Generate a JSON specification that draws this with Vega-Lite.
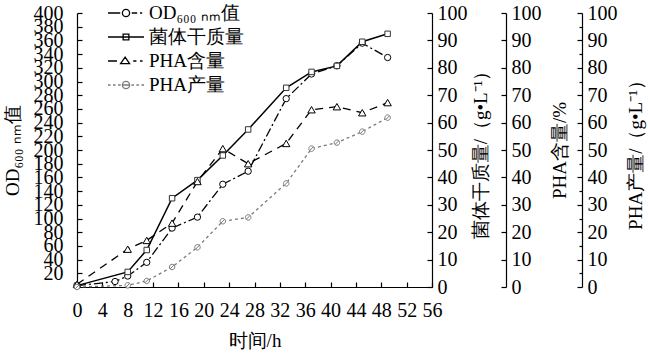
{
  "$schema": "https://vega.github.io/schema/vega-lite/v6.json",
  "width": 355,
  "height": 274,
  "autosize": {"type": "none"},
  "padding": {"left": 77, "top": 13, "right": 216, "bottom": 71},
  "config": {
    "view": {"stroke": null},
    "font": "Liberation Serif",
    "axis": {
      "grid": false,
      "domainColor": "black",
      "tickColor": "black",
      "labelColor": "black",
      "titleColor": "black",
      "labelFont": "Liberation Serif",
      "titleFont": "Liberation Serif",
      "labelFontSize": 20,
      "titleFontSize": 19,
      "titleFontWeight": "normal",
      "labelOverlap": false,
      "labelFlush": false,
      "labelBound": false,
      "tickSize": -5,
      "domainWidth": 1.2,
      "tickWidth": 1.2
    },
    "legend": {
      "labelFont": "Liberation Serif",
      "labelFontSize": 19,
      "labelColor": "black",
      "padding": 0
    }
  },
  "data": {
    "values": [
      {"s": "OD", "t": 0, "v": 2},
      {"s": "OD", "t": 6, "v": 8},
      {"s": "OD", "t": 8, "v": 16},
      {"s": "OD", "t": 11, "v": 36},
      {"s": "OD", "t": 15, "v": 86},
      {"s": "OD", "t": 19, "v": 102},
      {"s": "OD", "t": 23, "v": 150},
      {"s": "OD", "t": 27, "v": 169},
      {"s": "OD", "t": 33, "v": 275},
      {"s": "OD", "t": 37, "v": 311},
      {"s": "OD", "t": 41, "v": 323},
      {"s": "OD", "t": 45, "v": 356},
      {"s": "OD", "t": 49, "v": 335},
      {"s": "DW", "t": 0, "v": 0.5},
      {"s": "DW", "t": 8, "v": 5.5},
      {"s": "DW", "t": 11, "v": 13.5},
      {"s": "DW", "t": 15, "v": 32.4},
      {"s": "DW", "t": 19, "v": 39},
      {"s": "DW", "t": 23, "v": 48},
      {"s": "DW", "t": 27, "v": 57.5},
      {"s": "DW", "t": 33, "v": 72.7},
      {"s": "DW", "t": 37, "v": 78.5},
      {"s": "DW", "t": 41, "v": 80.7},
      {"s": "DW", "t": 45, "v": 89.5},
      {"s": "DW", "t": 49, "v": 92.4},
      {"s": "PC", "t": 0, "v": 1},
      {"s": "PC", "t": 8, "v": 13.8},
      {"s": "PC", "t": 11, "v": 17},
      {"s": "PC", "t": 15, "v": 23.3},
      {"s": "PC", "t": 19, "v": 38.5},
      {"s": "PC", "t": 23, "v": 50.5},
      {"s": "PC", "t": 27, "v": 45},
      {"s": "PC", "t": 33, "v": 52.4},
      {"s": "PC", "t": 37, "v": 64.7},
      {"s": "PC", "t": 41, "v": 65.8},
      {"s": "PC", "t": 45, "v": 63.6},
      {"s": "PC", "t": 49, "v": 67.3},
      {"s": "PY", "t": 0, "v": 0},
      {"s": "PY", "t": 8, "v": 0.6},
      {"s": "PY", "t": 11, "v": 2.2},
      {"s": "PY", "t": 15, "v": 7.3},
      {"s": "PY", "t": 19, "v": 14.5},
      {"s": "PY", "t": 23, "v": 24},
      {"s": "PY", "t": 27, "v": 25.4},
      {"s": "PY", "t": 33, "v": 37.8},
      {"s": "PY", "t": 37, "v": 50.5},
      {"s": "PY", "t": 41, "v": 52.7},
      {"s": "PY", "t": 45, "v": 56.7},
      {"s": "PY", "t": 49, "v": 61.8}
    ]
  },
  "encoding": {
    "x": {
      "field": "t",
      "type": "quantitative",
      "scale": {"domain": [0, 56], "nice": false},
      "axis": {
        "values": [0, 4, 8, 12, 16, 20, 24, 28, 32, 36, 40, 44, 48, 52, 56],
        "title": "时间/h",
        "labelPadding": 18,
        "titlePadding": 11
      }
    }
  },
  "layer": [
    {
      "transform": [{"filter": "datum.s === 'OD'"}],
      "encoding": {
        "y": {
          "field": "v",
          "type": "quantitative",
          "scale": {"domain": [0, 400], "nice": false},
          "axis": {
            "orient": "left",
            "values": [20, 40, 60, 80, 100, 120, 140, 160, 180, 200, 220, 240, 260, 280, 300, 320, 340, 360, 380, 400],
            "title": "OD₆₀₀ ₙₘ值",
            "labelPadding": 19,
            "titlePadding": 11
          }
        }
      },
      "layer": [
        {"mark": {"type": "line", "stroke": "black", "strokeWidth": 1.3, "strokeDash": [9, 3, 2, 3]}},
        {"mark": {"type": "point", "shape": "circle", "filled": true, "fill": "white", "stroke": "black", "strokeWidth": 1, "size": 40, "opacity": 1}}
      ]
    },
    {
      "transform": [{"filter": "datum.s === 'DW'"}],
      "encoding": {
        "y": {
          "field": "v",
          "type": "quantitative",
          "scale": {"domain": [0, 100], "nice": false},
          "axis": {
            "orient": "right",
            "offset": 0,
            "values": [0, 10, 20, 30, 40, 50, 60, 70, 80, 90, 100],
            "title": "菌体干质量/（g•L⁻¹）",
            "titleAngle": 270,
            "titleBaseline": "top",
            "labelPadding": 10,
            "titlePadding": 4
          }
        }
      },
      "layer": [
        {"mark": {"type": "line", "stroke": "black", "strokeWidth": 1.5}},
        {"mark": {"type": "point", "shape": "square", "filled": true, "fill": "white", "stroke": "#333", "strokeWidth": 1, "size": 30, "opacity": 1}}
      ]
    },
    {
      "transform": [{"filter": "datum.s === 'PC'"}],
      "encoding": {
        "y": {
          "field": "v",
          "type": "quantitative",
          "scale": {"domain": [0, 100], "nice": false},
          "axis": {
            "orient": "right",
            "offset": 74,
            "values": [0, 10, 20, 30, 40, 50, 60, 70, 80, 90, 100],
            "title": "PHA含量/%",
            "titleAngle": 270,
            "titleBaseline": "top",
            "labelPadding": 10,
            "titlePadding": 9
          }
        }
      },
      "layer": [
        {"mark": {"type": "line", "stroke": "black", "strokeWidth": 1.3, "strokeDash": [8, 6]}},
        {"mark": {"type": "point", "shape": "triangle-up", "filled": true, "fill": "white", "stroke": "black", "strokeWidth": 1, "size": 55, "opacity": 1}}
      ]
    },
    {
      "transform": [{"filter": "datum.s === 'PY'"}],
      "encoding": {
        "y": {
          "field": "v",
          "type": "quantitative",
          "scale": {"domain": [0, 100], "nice": false},
          "axis": {
            "orient": "right",
            "offset": 150,
            "values": [0, 10, 20, 30, 40, 50, 60, 70, 80, 90, 100],
            "title": "PHA产量/（g•L⁻¹）",
            "titleAngle": 270,
            "titleBaseline": "top",
            "labelPadding": 10,
            "titlePadding": 9
          }
        }
      },
      "layer": [
        {"mark": {"type": "line", "stroke": "#7a7a7a", "strokeWidth": 1.3, "strokeDash": [3, 3]}},
        {"mark": {"type": "point", "shape": "M1,0A1,1 0 1 1 -1,0A1,1 0 1 1 1,0M-0.7,0.7L0.7,-0.7", "filled": true, "fill": "white", "stroke": "#7a7a7a", "strokeWidth": 1, "size": 30, "opacity": 1}}
      ]
    },
    {
      "transform": [{"filter": "datum.s === 'PY'"}],
      "mark": {"type": "point", "opacity": 0},
      "encoding": {
        "y": {
          "field": "v",
          "type": "quantitative",
          "scale": {"domain": [0, 100], "nice": false},
          "axis": {
            "orient": "right",
            "offset": 150,
            "values": [5, 15, 25, 35, 45, 55, 65, 75, 85, 95],
            "labels": false,
            "domain": false,
            "tickSize": -3,
            "title": null
          }
        }
      }
    },
    {
      "transform": [{"filter": "false"}],
      "mark": {"type": "point", "filled": false, "strokeWidth": 1.3, "opacity": 1, "size": 324},
      "encoding": {
        "x": {"field": "t", "type": "quantitative"},
        "y": {"field": "v", "type": "quantitative", "scale": {"domain": [0, 100]}, "axis": null},
        "shape": {
          "field": "s",
          "type": "nominal",
          "scale": {
            "domain": ["OD", "DW", "PC", "PY"],
            "range": [
              "M-2,0H-0.64M0.4,0A0.4,0.4 0 1 1 -0.4,0A0.4,0.4 0 1 1 0.4,0M0.64,0H1.24M1.56,0H1.8",
              "M-2,0H2M-0.32,-0.32H0.32V0.32H-0.32Z",
              "M-2,0H-1M-0.1,-0.44L0.4,0.3H-0.6ZM0.8,0H1.16M1.56,0H1.84",
              "M-2,0H-1.72M-1.44,0H-1.16M-0.88,0H-0.6M0.6,0H0.88M1.16,0H1.44M1.72,0H2M0.4,0A0.4,0.4 0 1 1 -0.4,0A0.4,0.4 0 1 1 0.4,0M-0.4,0H0.4"
            ]
          },
          "legend": {
            "title": null,
            "orient": "none",
            "legendX": 39,
            "legendY": -10,
            "symbolSize": 324,
            "symbolStrokeWidth": 1.3,
            "symbolFillColor": "transparent",
            "rowPadding": 4,
            "labelOffset": 13,
            "labelExpr": "datum.value === 'OD' ? 'OD₆₀₀ ₙₘ值' : datum.value === 'DW' ? '菌体干质量' : datum.value === 'PC' ? 'PHA含量' : 'PHA产量'"
          }
        },
        "stroke": {
          "field": "s",
          "type": "nominal",
          "scale": {"domain": ["OD", "DW", "PC", "PY"], "range": ["black", "black", "black", "#7a7a7a"]},
          "legend": {
            "title": null,
            "orient": "none",
            "legendX": 39,
            "legendY": -10,
            "symbolSize": 324,
            "symbolStrokeWidth": 1.3,
            "symbolFillColor": "transparent",
            "rowPadding": 4,
            "labelOffset": 13,
            "labelExpr": "datum.value === 'OD' ? 'OD₆₀₀ ₙₘ值' : datum.value === 'DW' ? '菌体干质量' : datum.value === 'PC' ? 'PHA含量' : 'PHA产量'"
          }
        }
      }
    }
  ],
  "resolve": {"scale": {"y": "independent"}}
}
